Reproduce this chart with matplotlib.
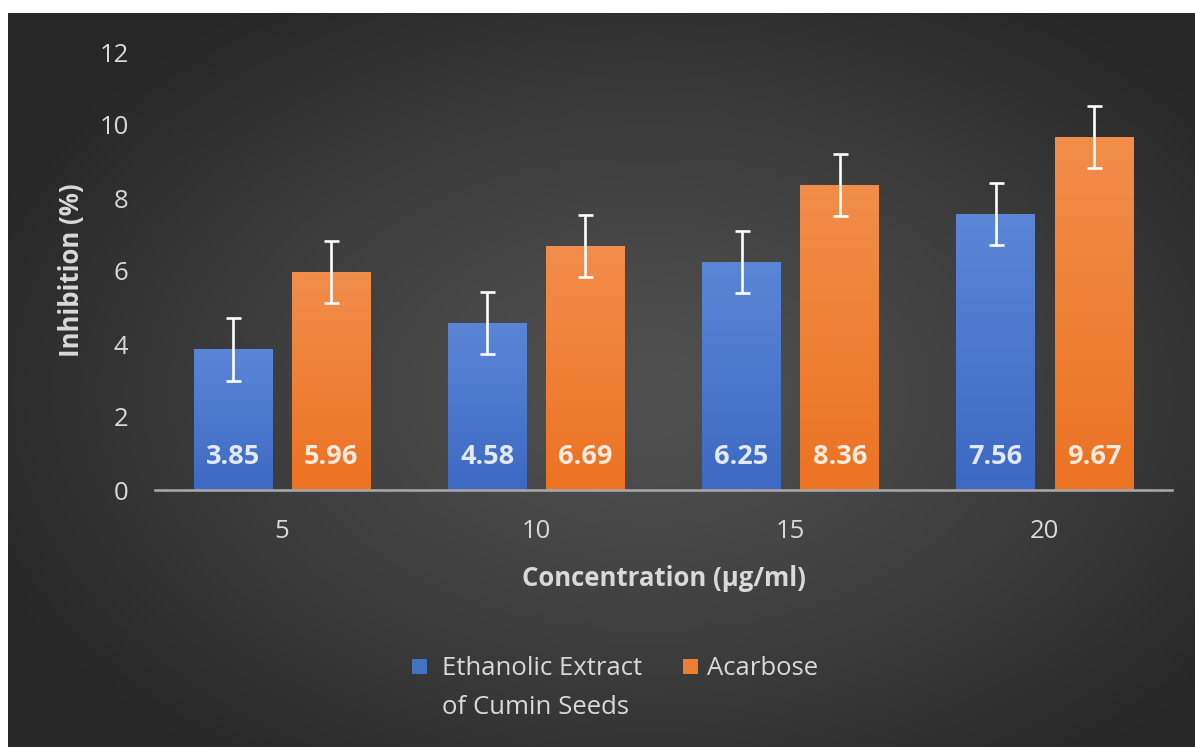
import numpy as np
import matplotlib
matplotlib.use("Agg")
import matplotlib.pyplot as plt
from matplotlib.patches import Rectangle

plt.rcParams['font.family'] = ['Open Sans', 'DejaVu Sans']

categories = ["5", "10", "15", "20"]
extract_vals = [3.85, 4.58, 6.25, 7.56]
acarbose_vals = [5.96, 6.69, 8.36, 9.67]
extract_err = [0.85, 0.85, 0.85, 0.85]
acarbose_err = [0.85, 0.85, 0.85, 0.86]
series_names = ["Ethanolic Extract\nof Cumin Seeds", "Acarbose"]

W, H = 1195, 747
TEXT = "#d9d9d9"
BLUE_TOP, BLUE_BOT = np.array([0x5b, 0x86, 0xd7]), np.array([0x3d, 0x69, 0xc3])
ORNG_TOP, ORNG_BOT = np.array([0xf2, 0x8d, 0x4b]), np.array([0xec, 0x73, 0x22])


def px(x, y):
    # pixel (from top-left) -> figure fraction
    return x / W, 1 - y / H


def radial_background(fig):
    bg = fig.add_axes([8 / W, 0, (W - 8) / W, (H - 13) / H], zorder=-10)
    h, w = H - 13, W - 8
    yy, xx = np.mgrid[0:h, 0:w]
    r = np.sqrt(((xx - 640) / 720.0) ** 2 + ((yy - 380) / 470.0) ** 2)
    r = np.clip(r, 0, 1)
    v = 0x50 + (0x27 - 0x50) * r ** 1.3
    img = np.dstack([v, v, v]) / 255.0
    bg.imshow(img, aspect='auto', interpolation='bilinear')
    bg.set_axis_off()


def gradient_bars(ax, bars, top, bot):
    grad = np.linspace(0, 1, 64)[:, None]
    cols = (top[None, :] * (1 - grad) + bot[None, :] * grad) / 255.0
    img = cols[:, None, :]
    for b in bars:
        x0, y0 = b.get_x(), b.get_y()
        im = ax.imshow(img, extent=[x0, x0 + b.get_width(), y0, y0 + b.get_height()],
                       aspect='auto', zorder=2, interpolation='bilinear')
        im.set_clip_path(b)


fig = plt.figure(figsize=(W / 100, H / 100), dpi=100)
fig.patch.set_facecolor("white")
radial_background(fig)

left, right = 155 / W, 1172 / W
bottom, top = (H - 490) / H, (H - 52) / H
ax = fig.add_axes([left, bottom, right - left, top - bottom])
ax.set_facecolor("none")

x = np.arange(len(categories))
off, width = 0.193, 0.31
b1 = ax.bar(x - off, extract_vals, width, color="#4472c4", zorder=1)
b2 = ax.bar(x + off, acarbose_vals, width, color="#ed7d31", zorder=1)
gradient_bars(ax, b1, BLUE_TOP, BLUE_BOT)
gradient_bars(ax, b2, ORNG_TOP, ORNG_BOT)

ax.errorbar(x - off, extract_vals, yerr=extract_err, fmt='none', ecolor='white',
            elinewidth=1.9, capsize=5.4, capthick=1.9, zorder=4)
ax.errorbar(x + off, acarbose_vals, yerr=acarbose_err, fmt='none', ecolor='white',
            elinewidth=1.9, capsize=5.4, capthick=1.9, zorder=4)

for xi, v in zip(x - off, extract_vals):
    ax.text(xi, 0.9, f"{v:.2f}", ha='center', va='center', fontsize=19.5,
            fontweight='bold', color='white', alpha=0.85, zorder=5)
for xi, v in zip(x + off, acarbose_vals):
    ax.text(xi, 0.9, f"{v:.2f}", ha='center', va='center', fontsize=19.5,
            fontweight='bold', color='white', alpha=0.85, zorder=5)

ax.set_xlim(-0.5, len(categories) - 0.5)
ax.set_ylim(0, 12)
ax.set_yticks(np.arange(0, 13, 2))
ax.set_xticks(x)
ax.set_xticklabels(categories)
ax.tick_params(axis='both', length=0, labelsize=18.5, labelcolor=TEXT)
ax.tick_params(axis='y', pad=19)
ax.tick_params(axis='x', pad=21)
for s in ['top', 'right', 'left']:
    ax.spines[s].set_visible(False)
ax.spines['bottom'].set_color("#a6a6a6")
ax.spines['bottom'].set_linewidth(1.9)
ax.spines['bottom'].set_zorder(3)

fig.text(*px(71, 270), "Inhibition (%)", rotation=90, ha='center', va='center',
         fontsize=18.5, fontweight='bold', color=TEXT)
fig.text(*px(664, 578), "Concentration (µg/ml)", ha='center', va='center',
         fontsize=18.5, fontweight='bold', color=TEXT)

# legend
for (sx, tx, name, col) in [(412, 442, series_names[0], "#4472c4"),
                            (683, 707, series_names[1], "#ed7d31")]:
    fx, fy = px(sx, 674)
    fig.patches.append(Rectangle((fx, fy), 15 / W, 15 / H, transform=fig.transFigure,
                                 facecolor=col, edgecolor='none', figure=fig))
    fig.text(*px(tx, 656), name, ha='left', va='top', fontsize=18.5,
             color=TEXT, linespacing=1.73)

fig.savefig("out.png", dpi=100, facecolor=fig.get_facecolor())
